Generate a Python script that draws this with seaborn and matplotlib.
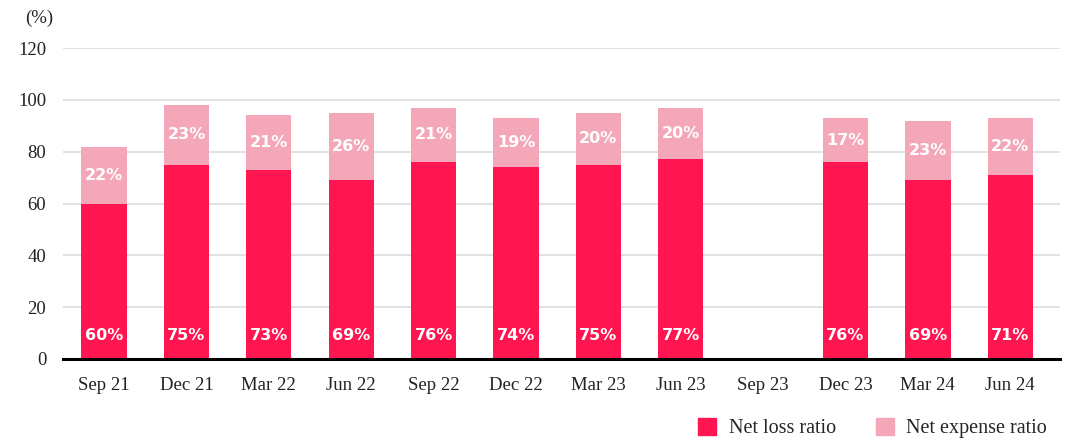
import numpy as np
import pandas as pd
import matplotlib.pyplot as plt
import seaborn as sns
from matplotlib.patches import Patch

quarters = ["Sep 21", "Dec 21", "Mar 22", "Jun 22", "Sep 22", "Dec 22",
            "Mar 23", "Jun 23", "Sep 23", "Dec 23", "Mar 24", "Jun 24"]
net_loss = [60, 75, 73, 69, 76, 74, 75, 77, np.nan, 76, 69, 71]
net_expense = [22, 23, 21, 26, 21, 19, 20, 20, np.nan, 17, 23, 22]

loss_color = "#FF1550"
exp_color = "#F4A7B9"

df = pd.DataFrame({"quarter": quarters, "loss": net_loss, "expense": net_expense})
df["total"] = df["loss"] + df["expense"]

sns.set_theme(style="white")
plt.rcParams["font.family"] = ["Liberation Serif", "DejaVu Serif"]

fig = plt.figure(figsize=(10.65, 4.41), dpi=100)
ax = fig.add_axes([0.059, 0.186, 0.936, 0.705])

sns.barplot(data=df, x="quarter", y="total", color=exp_color, width=0.55,
            saturation=1, linewidth=0, ax=ax, zorder=2)
sns.barplot(data=df, x="quarter", y="loss", color=loss_color, width=0.55,
            saturation=1, linewidth=0, ax=ax, zorder=3)

ax.set_ylim(0, 120)
ax.set_xlim(-0.5, 11.6)
ax.set_yticks(range(0, 121, 20))
ax.grid(axis="y", color="#DDDDDD", linewidth=1.2, zorder=0)
ax.set_axisbelow(True)
for s in ["top", "right", "left"]:
    ax.spines[s].set_visible(False)
ax.spines["bottom"].set_color("black")
ax.spines["bottom"].set_linewidth(2.2)
ax.spines["bottom"].set_zorder(5)
ax.set_xlabel("")
ax.set_ylabel("")
ax.tick_params(axis="both", length=0, labelsize=13.5, colors="#222222")
ax.tick_params(axis="x", pad=13)
ax.tick_params(axis="y", pad=12)

lab_font = dict(color="white", fontsize=11.5, fontweight="bold",
                family="DejaVu Sans", ha="center", va="center", zorder=6)
for i, (l, e) in enumerate(zip(net_loss, net_expense)):
    if np.isnan(l):
        continue
    ax.text(i, 9, f"{int(l)}%", **lab_font)
    ax.text(i, l + e / 2, f"{int(e)}%", **lab_font)

fig.text(0.024, 0.958, "(%)", fontsize=13.5, color="#222222", ha="left", va="center")

handles = [Patch(color=loss_color, label="Net loss ratio"),
           Patch(color=exp_color, label="Net expense ratio")]
fig.legend(handles=handles, loc="lower right", bbox_to_anchor=(1.0, -0.035),
           ncol=2, frameon=False, fontsize=14.5, handlelength=0.9,
           handleheight=0.9, columnspacing=2.0, handletextpad=0.6)

fig.savefig("out.png", dpi=100)
